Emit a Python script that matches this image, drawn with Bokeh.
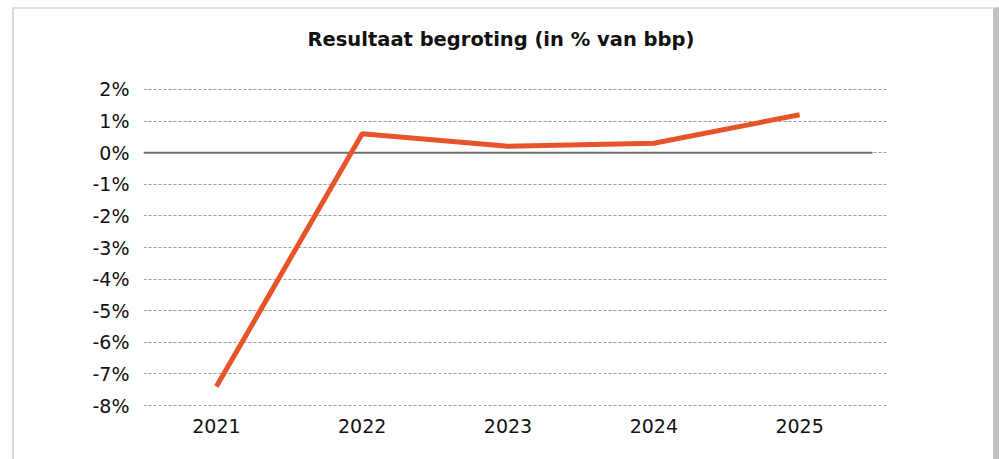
from bokeh.plotting import figure
from bokeh.models import Range1d, FixedTicker, Title
from bokeh.embed import file_html
from bokeh.resources import INLINE

years = ["2021", "2022", "2023", "2024", "2025"]
saldo = [-7.4, 0.6, 0.2, 0.3, 1.2]
y_ticks = [-8, -7, -6, -5, -4, -3, -2, -1, 0, 1, 2]
y_labels = [f"{t}%" for t in y_ticks]
title_text = "Resultaat begroting (in % van bbp)"

FONT = "DejaVu Sans"
xs = list(range(len(years)))

p = figure(width=987, height=452, output_backend="svg", toolbar_location=None,
           x_range=Range1d(-0.5, len(years) - 0.5 + 0.096), y_range=Range1d(-8.03, 2.03),
           min_border_left=129, min_border_right=115, min_border_top=79, min_border_bottom=55)
p.title = None
t = Title(text=title_text + "\n ", align="left", offset=164, standoff=26,
          vertical_align="top",
          text_font=FONT, text_font_size="19.5px", text_font_style="bold", text_color="#111111")
p.add_layout(t, "above")

p.outline_line_color = None
p.background_fill_color = "white"
p.border_fill_color = "white"
p.styles = {"margin-left": "12px", "margin-top": "7px",
            "border-left": "2px solid #d8d8d8", "border-top": "2px solid #e0e0e0",
            "border-right": "6px solid #c0c0c0", "box-sizing": "border-box"}

p.xgrid.grid_line_color = None
p.ygrid.grid_line_color = "#9a9a9a"
p.ygrid.grid_line_dash = "3 2"
p.ygrid.grid_line_width = 1
p.ygrid.ticker = FixedTicker(ticks=y_ticks)

p.yaxis.ticker = FixedTicker(ticks=y_ticks)
p.yaxis.major_label_overrides = {t: l for t, l in zip(y_ticks, y_labels)}
p.xaxis.ticker = FixedTicker(ticks=xs)
p.xaxis.major_label_overrides = {i: y for i, y in zip(xs, years)}
for ax in (p.xaxis, p.yaxis):
    ax.axis_line_color = None
    ax.major_tick_line_color = None
    ax.minor_tick_line_color = None
    ax.major_tick_out = 0
    ax.major_tick_in = 0
    ax.major_label_text_font = FONT
    ax.major_label_text_font_size = "19px"
    ax.major_label_text_color = "#111111"
p.yaxis.major_label_standoff = 14
p.xaxis.major_label_standoff = 12

# zero line
p.line([-0.5, len(years) - 0.5], [0, 0], line_color="#6e6e6e", line_width=2)
p.line(xs, saldo, line_color="#E8542A", line_width=5)

open("out.html", "w").write(file_html(p, INLINE))
